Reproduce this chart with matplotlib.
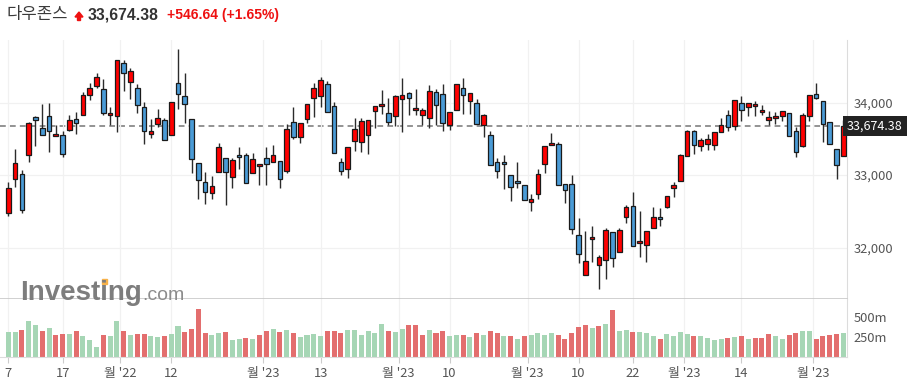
# Dow Jones daily candles + volume (Investing.com style)
import numpy as np
import matplotlib.pyplot as plt
from matplotlib.patches import Polygon, Rectangle
import matplotlib.transforms as mtransforms

plt.rcParams['font.family'] = ['Noto Sans CJK KR', 'DejaVu Sans']

# OHLC values
opens = [32482, 32940, 33010, 33273, 33801, 33649, 33815, 33537, 33551, 33621,
         33774, 33824, 34102, 34227, 34190, 33824, 33815, 34551, 34287, 34204,
         33940, 33561, 33704, 33760, 33551, 34274, 34088, 33774, 33162, 32898,
         32746, 33037, 33232, 32968, 33273, 33273, 33023, 33121, 33232, 33176,
         33190, 33060, 33732, 33524, 33774, 34065, 34093, 34260, 33954, 33176,
         33079, 33468, 33454, 33551, 33885, 33954, 33857, 33815, 34051, 34135,
         33898, 33829, 33787, 34148, 34121, 33690, 33898, 34204, 34024, 33996,
         33690, 33551, 33176, 33176, 32996, 32912, 32856, 32630, 32745, 33148,
         33412, 33426, 32870, 32870, 32176, 31620, 32120, 31759, 31828, 32217,
         31939, 32425, 32578, 32064, 32037, 32273, 32425, 32564, 32814, 32912,
         33259, 33606, 33398, 33426, 33412, 33592, 33828, 33676, 33995, 33940,
         33953, 33870, 33759, 33787, 33814, 33856, 33606, 33398, 33814, 34120,
         34023, 33731, 33356, 33259]
highs = [32908, 33357, 33065, 33732, 33820, 33973, 33991, 33695, 33612, 33829,
         33875, 34144, 34269, 34403, 34320, 33936, 34593, 34593, 34482, 34250,
         34010, 33769, 33912, 33787, 34010, 34737, 34412, 33774, 33162, 33037,
         32991, 33440, 33232, 33232, 33380, 33310, 33301, 33153, 33380, 33417,
         33190, 33709, 33940, 33718, 33982, 34274, 34357, 34297, 34010, 33232,
         33385, 33787, 33787, 33760, 33954, 34176, 34065, 34107, 34343, 34148,
         34190, 33926, 34246, 34190, 34260, 33871, 34260, 34343, 34135, 34051,
         33843, 33607, 33232, 33273, 32996, 33185, 32856, 32736, 33078, 33398,
         33578, 33453, 32870, 32995, 32412, 32231, 32301, 31898, 32273, 32217,
         32273, 32592, 32759, 32509, 32231, 32564, 32551, 32717, 32898, 33287,
         33620, 33620, 33509, 33564, 33592, 33787, 33898, 34037, 34092, 33995,
         34023, 33967, 33884, 33870, 33884, 33856, 33662, 33856, 34106, 34273,
         34023, 33731, 33356, 33759]
lows = [32435, 32838, 32482, 33176, 33394, 33551, 33324, 33537, 33255, 33602,
        33565, 33824, 34028, 34204, 33824, 33686, 33593, 34158, 34051, 33857,
        33431, 33514, 33662, 33482, 33551, 33917, 33718, 33023, 32667, 32597,
        32667, 33037, 32584, 32815, 33084, 32889, 33023, 32861, 32861, 33176,
        32815, 33023, 33496, 33440, 33718, 33801, 33940, 33871, 33301, 32996,
        32954, 33329, 33315, 33287, 33648, 33843, 33690, 33676, 33593, 33829,
        33829, 33690, 33648, 33690, 33607, 33621, 33898, 33843, 33843, 33704,
        33524, 33134, 32954, 32801, 32648, 32814, 32662, 32509, 32676, 33023,
        33412, 32856, 32620, 32189, 31787, 31620, 31801, 31426, 31564, 31731,
        31939, 32342, 32023, 31870, 31801, 32273, 32301, 32551, 32690, 32912,
        33259, 33287, 33328, 33342, 33342, 33592, 33606, 33620, 33745, 33814,
        33814, 33828, 33689, 33703, 33745, 33537, 33245, 33384, 33745, 34051,
        33453, 33426, 32939, 33259]
closes = [32824, 33162, 32523, 33718, 33760, 33551, 33607, 33565, 33287, 33760,
          33718, 34107, 34204, 34357, 33857, 33862, 34593, 34412, 34436, 33963,
          33607, 33612, 33787, 33482, 34010, 34121, 33982, 33218, 32926, 32764,
          32843, 33385, 33037, 33204, 33246, 32889, 33218, 33153, 33148, 33273,
          32940, 33635, 33524, 33718, 33982, 34204, 34315, 33871, 33301, 33051,
          33385, 33635, 33746, 33760, 33954, 33982, 33732, 34093, 34107, 34065,
          33926, 33898, 34162, 33968, 33718, 33871, 34260, 34107, 34135, 33704,
          33829, 33134, 33051, 33148, 32829, 32884, 32662, 32675, 33009, 33398,
          33440, 32856, 32800, 32259, 31912, 31814, 32148, 31870, 32245, 31856,
          32245, 32564, 32023, 32092, 32231, 32425, 32398, 32717, 32856, 33273,
          33606, 33412, 33481, 33495, 33592, 33689, 33662, 34037, 33898, 33995,
          33981, 33898, 33801, 33814, 33884, 33537, 33314, 33828, 34106, 34064,
          33703, 33426, 33134, 33674.38]
# volume in millions
volumes = [311, 311, 336, 449, 399, 323, 361, 273, 285, 285, 323, 260, 210, 122, 273,
           260, 449, 323, 273, 285, 285, 260, 248, 260, 285, 386, 311, 348, 600, 298,
           273, 298, 311, 210, 222, 235, 222, 273, 323, 348, 311, 336, 298, 248,
           273, 285, 260, 323, 323, 298, 336, 336, 273, 323, 298, 411, 323, 311, 348,
           399, 399, 273, 336, 298, 323, 260, 273, 273, 248, 298, 273, 323, 298, 260,
           260, 222, 260, 273, 298, 273, 298, 273, 222, 298, 374,
           399, 361, 386, 411, 588, 323, 336, 311, 311, 298, 260, 222, 285, 260, 311,
           285, 260, 260, 235, 210, 222, 235, 248, 260, 222, 235, 235, 285, 260, 222,
           273, 298, 323, 323, 222, 260, 273, 285, 298]

# x axis ticks (candle index) and labels
tick_idx = [0, 8, 16.5, 24, 37.5, 46, 57.5, 65, 76.5, 84, 92, 99.5, 108, 118.5]
tick_labels = ['7', '17', "월 '22", '12', "월 '23", '13', "월 '23", '10',
               "월 '23", '10', '22', "월 '23", '14', "월 '23"]

title_name = '다우존스'
last_price = 33674.38
change = 546.64
change_pct = 1.65

W, H = 915, 384


def box(x0, y0, x1, y1):
    # pixel box -> figure fraction
    return [x0 / W, 1 - y1 / H, (x1 - x0) / W, (y1 - y0) / H]


fig = plt.figure(figsize=(W / 100, H / 100), dpi=100)
ax = fig.add_axes(box(0, 40, 847, 299))
axv = fig.add_axes(box(0, 299, 847, 357), sharex=ax)

o = np.array(opens, dtype=float)
h = np.array(highs, dtype=float)
l = np.array(lows, dtype=float)
c = np.array(closes, dtype=float)
v = np.array(volumes, dtype=float)
x = np.arange(len(c))

up = c >= o
cand_col = np.where(up, '#ff0000', '#4a9bd6')
body_bot = np.minimum(o, c)
body_h = np.maximum(np.abs(c - o), 22)

# grid
ax.set_xticks(tick_idx)
ax.set_yticks([32000, 33000, 34000])
ax.grid(True, color='#f1f1f1', lw=0.9, zorder=0)
axv.grid(True, axis='x', color='#f1f1f1', lw=0.9, zorder=0)

ax.axhline(last_price, color='#8a8a8a', lw=1.3, ls=(0, (3.2, 2.3)), zorder=1)

# candles
ax.vlines(x, l, h, color='#2b2b2b', lw=1.0, zorder=2)
ax.bar(x, body_h, bottom=body_bot, width=0.68, color=cand_col,
       edgecolor='#1a1a1a', linewidth=0.9, zorder=3)

# volume colour from close vs previous close
vol_up = np.r_[True, c[1:] > c[:-1]]
vol_col = np.where(vol_up, '#a6d6b5', '#e36e6e')
axv.bar(x, v, width=0.74, color=vol_col, linewidth=0, zorder=2)

ax.set_xlim(-1.22, 123.54)
ax.set_ylim(31290, 34862)
axv.set_ylim(0, 731)

# spines
for a in (ax, axv):
    for s in ('top', 'left'):
        a.spines[s].set_visible(False)
    a.spines['right'].set_color('#dcdcdc')
    a.yaxis.tick_right()
    a.tick_params(axis='y', length=0, pad=5, labelsize=9.3, labelcolor='#555555')
ax.spines['bottom'].set_color('#c8c8c8')
ax.spines['bottom'].set_linewidth(1.2)
axv.spines['bottom'].set_color('#dcdcdc')

ax.set_yticklabels([f'{t:,.0f}' for t in [32000, 33000, 34000]])
ax.tick_params(axis='x', length=0, labelbottom=False)

axv.set_yticks([250, 500])
axv.set_yticklabels(['250m', '500m'])
axv.set_xticks(tick_idx)
axv.set_xticklabels(tick_labels)
axv.tick_params(axis='x', length=4, color='#cccccc', pad=3, labelsize=9.3,
                labelcolor='#555555')

# last price tag
trans = mtransforms.blended_transform_factory(ax.transAxes, ax.transData)
ax.text(1.0, last_price, f'{last_price:,.2f}', transform=trans, ha='left',
        va='center', color='white', fontsize=9,
        bbox=dict(boxstyle='square,pad=0.3', fc='#222222', ec='none'),
        clip_on=False, zorder=5)

# watermark
fig.text(20 / W, 1 - 300 / H, 'Investing', fontsize=20, fontweight='bold',
         color='#7d7d7d', family='Liberation Sans', va='baseline')
fig.text(142 / W, 1 - 300 / H, '.com', fontsize=14, color='#8c8c8c',
         family='Liberation Sans', va='baseline')
fig.patches.append(Rectangle((101.5 / W, 1 - 284 / H), 5 / W, 5 / H,
                             transform=fig.transFigure, color='#f7b24a'))

# header
fig.text(6 / W, 1 - 15 / H, title_name, fontsize=12, color='#3a3a3a', va='center')
arrow = [(75, 17), (79, 12), (83, 17), (80.5, 17), (80.5, 20.5), (77.5, 20.5), (77.5, 17)]
fig.patches.append(Polygon([(px / W, 1 - py / H) for px, py in arrow], closed=True,
                           transform=fig.transFigure, color='#ee1111'))
fig.text(88 / W, 1 - 15 / H, f'{last_price:,.2f}', fontsize=11.3, fontweight='bold',
         color='#333333', family='Liberation Sans', va='center')
fig.text(167 / W, 1 - 15 / H, f'+{change:,.2f} (+{change_pct:.2f}%)', fontsize=10,
         fontweight='bold', color='#ee1111', family='Liberation Sans', va='center')

fig.savefig('out.png', dpi=100)
